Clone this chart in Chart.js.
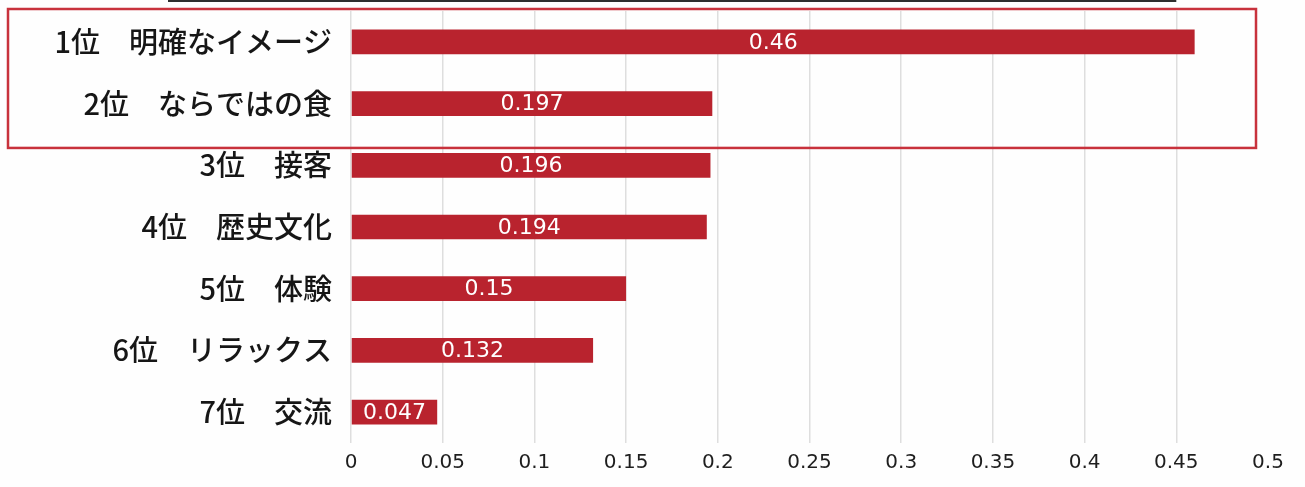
<!DOCTYPE html>
<html lang="ja">
<head>
<meta charset="utf-8">
<title>魅力度ランキング</title>
<script src="https://cdn.jsdelivr.net/npm/chart.js@4.4.1/dist/chart.umd.min.js"></script>
<style>
  html, body { margin: 0; padding: 0; background: #fefefe; }
  #wrap { width: 1305px; height: 487px; position: relative; }
</style>
</head>
<body>
<div id="wrap"><canvas id="chart"></canvas></div>
<script>
// Ranking categories and their scores
const categories = [
  '1位　明確なイメージ',
  '2位　ならではの食',
  '3位　接客',
  '4位　歴史文化',
  '5位　体験',
  '6位　リラックス',
  '7位　交流'
];
const scores = [0.46, 0.197, 0.196, 0.194, 0.15, 0.132, 0.047];
const valueLabels = ['0.46', '0.197', '0.196', '0.194', '0.15', '0.132', '0.047'];
const xTickLabels = ['0', '0.05', '0.1', '0.15', '0.2', '0.25', '0.3', '0.35', '0.4', '0.45', '0.5'];

const BAR_RED = '#b9232e';
const LATIN = '"DejaVu Sans", "Liberation Sans", sans-serif';
const CJK = '"Noto Sans CJK JP", "Noto Sans", sans-serif';

// White value text centred inside each bar
const barValueText = {
  id: 'barValueText',
  afterDatasetsDraw(chart) {
    const { ctx } = chart;
    const meta = chart.getDatasetMeta(0);
    ctx.save();
    ctx.fillStyle = '#ffffff';
    ctx.font = '22px ' + LATIN;
    ctx.textAlign = 'center';
    ctx.textBaseline = 'middle';
    meta.data.forEach((bar, i) => {
      const { x, y, base } = bar.getProps(['x', 'y', 'base'], true);
      ctx.fillText(valueLabels[i], (x + base) / 2, y + 1);
    });
    ctx.restore();
  }
};

// Highlight frame around the top two entries, plus the rule along the top edge
const highlightFrame = {
  id: 'highlightFrame',
  afterDraw(chart) {
    const { ctx, chartArea, scales } = chart;
    const meta = chart.getDatasetMeta(0);
    const third = meta.data[2].getProps(['y', 'height'], true);
    const top = chartArea.top - 2;
    const bottom = third.y - third.height / 2 - 5;
    const left = 8;
    const right = chartArea.right - 12;
    ctx.save();
    ctx.strokeStyle = '#c8323c';
    ctx.lineWidth = 2.5;
    ctx.strokeRect(left, top, right - left, bottom - top);

    ctx.strokeStyle = '#2e2e2e';
    ctx.lineWidth = 2;
    ctx.beginPath();
    ctx.moveTo(168, 1);
    ctx.lineTo(scales.x.getPixelForValue(0.45), 1);
    ctx.stroke();
    ctx.restore();
  }
};

new Chart(document.getElementById('chart'), {
  type: 'bar',
  data: {
    labels: categories,
    datasets: [{
      data: scores,
      backgroundColor: BAR_RED,
      borderWidth: 0,
      barPercentage: 0.4,
      categoryPercentage: 1.0
    }]
  },
  options: {
    indexAxis: 'y',
    responsive: true,
    maintainAspectRatio: false,
    animation: false,
    devicePixelRatio: 1,
    layout: { padding: { top: 11, right: 37, bottom: 4, left: 0 } },
    plugins: {
      legend: { display: false },
      tooltip: { enabled: false }
    },
    scales: {
      x: {
        min: 0,
        max: 0.5,
        afterFit(scale) { scale.paddingLeft = 0; scale.paddingRight = 0; },
        ticks: {
          stepSize: 0.05,
          padding: 8,
          color: '#1e1e1e',
          font: { family: LATIN, size: 20 },
          callback: (v, i) => xTickLabels[i]
        },
        grid: {
          color: (c) => c.index === xTickLabels.length - 1 ? 'rgba(0,0,0,0)' : '#dedede',
          lineWidth: 1.5,
          drawTicks: false
        },
        border: { display: false }
      },
      y: {
        afterFit(scale) {
          scale.width = 351;
          scale.paddingTop = 0;
          scale.paddingBottom = 0;
        },
        ticks: {
          padding: 19,
          color: '#161616',
          font: { family: CJK, size: 29, weight: 500 }
        },
        grid: { display: false, drawTicks: false },
        border: { display: false }
      }
    }
  },
  plugins: [barValueText, highlightFrame]
});
</script>
</body>
</html>
